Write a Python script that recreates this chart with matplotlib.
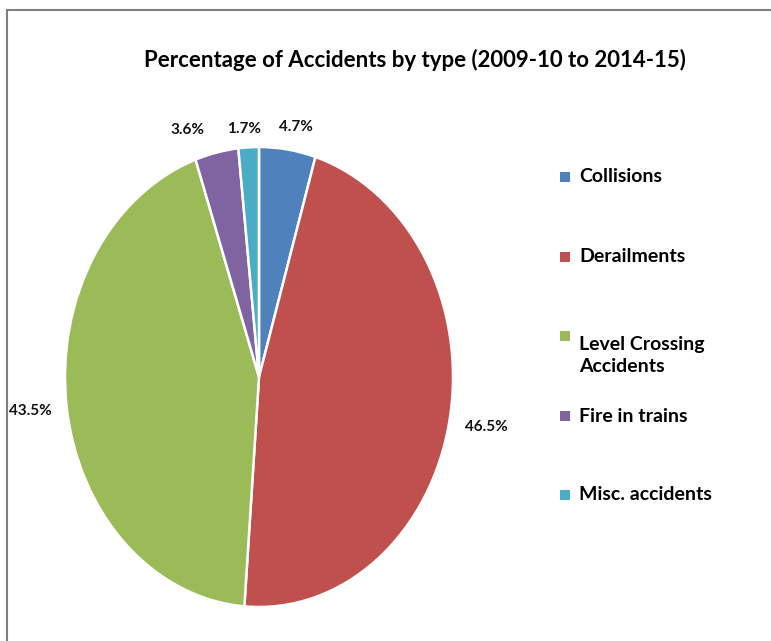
import matplotlib

matplotlib.use("Agg")

import matplotlib.pyplot as plt
import numpy as np
from matplotlib.lines import Line2D
from matplotlib.patches import Rectangle

categories = ["Collisions", "Derailments", "Level Crossing\nAccidents", "Fire in trains", "Misc. accidents"]
shares = [4.7, 46.5, 43.5, 3.6, 1.7]
colors = ["#4F81BD", "#C0504D", "#9BBB59", "#8064A2", "#4BACC6"]
title = "Percentage of Accidents by type (2009-10 to 2014-15)"

W, H = 771, 641
plt.rcParams["font.family"] = ["Lato", "DejaVu Sans"]

fig = plt.figure(figsize=(W / 100, H / 100), dpi=100)

# pie is stretched vertically in the original picture
left, right, top, bottom = 65, 453, 147, 607
ax = fig.add_axes([left / W, 1 - bottom / H, (right - left) / W, (bottom - top) / H])
wedges, _ = ax.pie(
    shares,
    colors=colors,
    startangle=90,
    counterclock=False,
    radius=1.0,
    wedgeprops={"edgecolor": "white", "linewidth": 1.8},
)
ax.set_aspect("auto")
ax.set_xlim(-1, 1)
ax.set_ylim(-1, 1)

# data labels outside the slices, excel nudges the small ones apart
label_radius = [1.10, 1.19, 1.16, 1.10, 1.08]
label_shift = [0.03, 0.0, -0.03, -0.13, -0.02]
for wedge, value, r, dx in zip(wedges, shares, label_radius, label_shift):
    mid = np.deg2rad((wedge.theta1 + wedge.theta2) / 2)
    ax.text(r * np.cos(mid) + dx, r * np.sin(mid), f"{value}%",
            ha="center", va="center", fontsize=11, fontweight="bold", color="#111111",
            clip_on=False)

fig.text(415 / W, 1 - 60 / H, title, ha="center", va="center",
         fontsize=16, fontweight="bold", color="#000000")

# legend drawn by hand to keep excel's even spacing
legend_y = [177, 257, 336, 416, 495]
for wedge, name, y in zip(wedges, categories, legend_y):
    fig.patches.append(Rectangle(((560) / W, 1 - (y + 5) / H), 10 / W, 10 / H,
                                 transform=fig.transFigure, facecolor=wedge.get_facecolor(),
                                 edgecolor="none"))
    fig.text(579 / W, 1 - y / H, name, ha="left", va="top" if "\n" in name else "center",
             fontsize=14, fontweight="bold", color="#000000", linespacing=1.35)

# grey frame of the screenshot
fig.lines.append(Line2D([7 / W, 7 / W], [0, 1 - 10 / H], transform=fig.transFigure,
                        color="#7f7f7f", linewidth=1.5))
fig.lines.append(Line2D([7 / W, 1], [1 - 10 / H, 1 - 10 / H], transform=fig.transFigure,
                        color="#7f7f7f", linewidth=1.5))

fig.savefig("out.png", dpi=100)
